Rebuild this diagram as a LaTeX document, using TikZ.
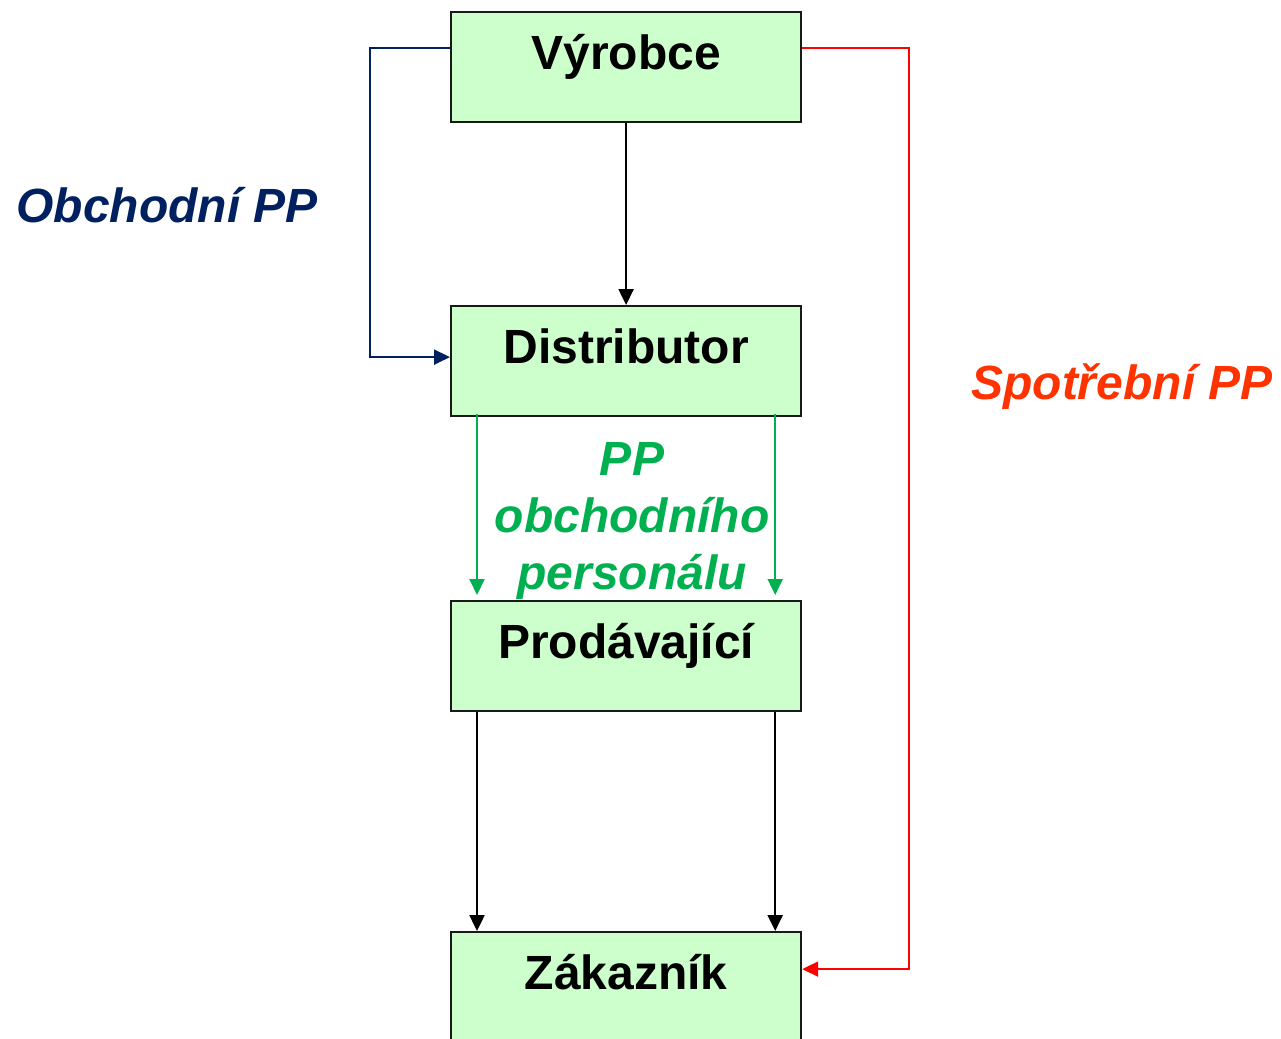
\documentclass[tikz,border=0pt]{standalone}
\usepackage{fontspec}
\setmainfont{Liberation Sans}
\usetikzlibrary{arrows.meta}
\definecolor{boxgreen}{RGB}{204,255,204}
\definecolor{obchnavy}{RGB}{0,32,96}
\definecolor{spotred}{RGB}{255,51,0}
\definecolor{persgreen}{RGB}{0,176,80}
\begin{document}
\begin{tikzpicture}[x=1pt,y=-1pt]
    \tikzstyle{stage} = [draw=black!90, line width=2.2pt, fill=boxgreen, anchor=north west,
                         minimum width=350pt, minimum height=110pt, inner ysep=17pt,
                         text height=40pt, text depth=36pt, font=\fontsize{48}{56}\selectfont\bfseries]
    \tikzstyle{flow} = [line width=2.4pt, ->, >={Triangle[length=16pt,width=15pt]}]
    \tikzstyle{tag} = [font=\fontsize{48}{57}\selectfont\bfseries\itshape]

    \useasboundingbox (0,0) rectangle (1281,1038);

    % chain of the sale
    \node[stage] (vyrobce)     at (450,11)  {Výrobce};
    \node[stage] (distributor) at (450,305) {Distributor};
    \node[stage] (prodavajici) at (450,600) {Prodávající};
    \node[stage] (zakaznik)    at (450,931) {Zákazník};

    \draw[flow] (vyrobce.south) -- (distributor.north);
    \draw[flow] ([xshift=27pt]prodavajici.south west) -- ([xshift=27pt]zakaznik.north west);
    \draw[flow] ([xshift=-27pt]prodavajici.south east) -- ([xshift=-27pt]zakaznik.north east);

    % trade promotion
    \draw[flow,line width=2pt,obchnavy] ([yshift=19pt]vyrobce.west) -- ++(-80,0) |- ([yshift=4pt]distributor.west);
    \node[tag,obchnavy,anchor=base] (obchodni) at (167,222) {Obchodní PP};

    % consumer promotion
    \draw[flow,line width=2pt,red] ([yshift=19pt]vyrobce.east) -- ++(107,0) |- ([yshift=18pt]zakaznik.east);
    \node[tag,spotred,anchor=base] (spotrebni) at (1122,399) {Spotřební PP};

    % sales staff promotion
    \draw[flow,line width=2pt,persgreen] ([xshift=27pt,yshift=3pt]distributor.south west) -- ([xshift=27pt,yshift=5pt]prodavajici.north west);
    \draw[flow,line width=2pt,persgreen] ([xshift=-27pt,yshift=3pt]distributor.south east) -- ([xshift=-27pt,yshift=5pt]prodavajici.north east);
    \node[tag,persgreen,align=center] (personal) at (632,521) {PP\\obchodního\\personálu};
\end{tikzpicture}
\end{document}
